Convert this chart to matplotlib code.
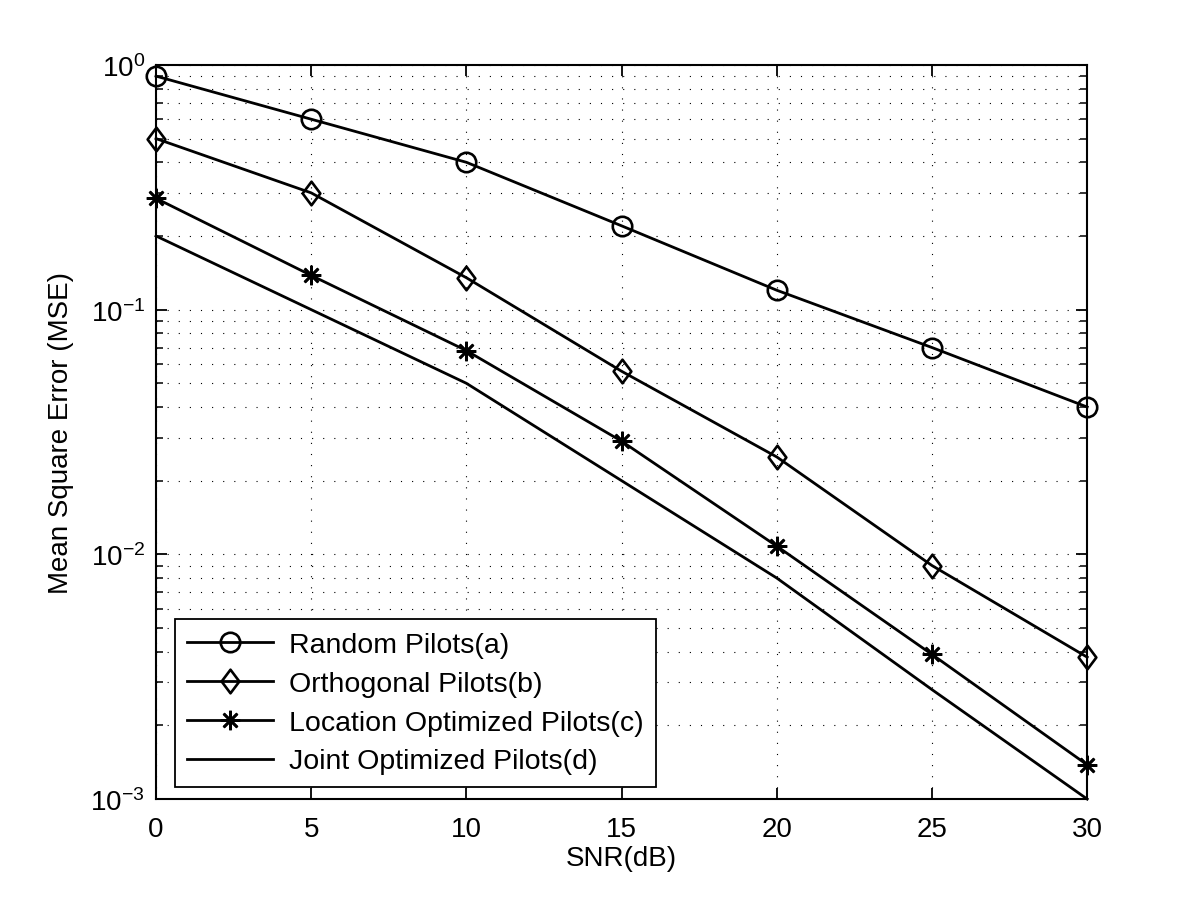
import matplotlib
matplotlib.use("Agg")
import matplotlib.pyplot as plt
from matplotlib.ticker import LogLocator, NullFormatter, FixedLocator
from matplotlib.path import Path

plt.rcParams['font.family'] = ['Liberation Sans', 'DejaVu Sans']
plt.rcParams['mathtext.fontset'] = 'custom'
plt.rcParams['mathtext.rm'] = 'Liberation Sans'

snr = [0, 5, 10, 15, 20, 25, 30]
random_pilots = [0.9, 0.6, 0.4, 0.22, 0.12, 0.07, 0.04]
orthogonal_pilots = [0.5, 0.3, 0.135, 0.056, 0.025, 0.009, 0.0038]
location_pilots = [0.285, 0.138, 0.068, 0.029, 0.0108, 0.0039, 0.00138]
joint_pilots = [0.2, 0.1, 0.05, 0.02, 0.008, 0.0028, 0.001]

labels = ['Random Pilots(a)', 'Orthogonal Pilots(b)',
          'Location Optimized Pilots(c)', 'Joint Optimized Pilots(d)']

diamond = Path([(0, 1), (0.75, 0), (0, -1), (-0.75, 0), (0, 1)],
               [Path.MOVETO, Path.LINETO, Path.LINETO, Path.LINETO, Path.CLOSEPOLY])

fig = plt.figure(figsize=(12, 9.03), dpi=100)
ax = fig.add_axes([0.13, 0.114, 0.776, 0.813])

lw = 2.0
mew = 1.9
ax.semilogy(snr, random_pilots, color='black', lw=lw, marker='o', ms=14,
            mfc='none', mew=mew, label=labels[0], clip_on=False, zorder=3)
ax.semilogy(snr, orthogonal_pilots, color='black', lw=lw, marker=diamond, ms=17,
            mfc='none', mew=mew, label=labels[1], clip_on=False, zorder=3)
ax.semilogy(snr, location_pilots, color='black', lw=lw, marker=(8, 2, 0), ms=14,
            mew=mew, label=labels[2], clip_on=False, zorder=3)
ax.semilogy(snr, joint_pilots, color='black', lw=lw, label=labels[3],
            clip_on=False, zorder=3)

ax.set_xlim(0, 30)
ax.set_ylim(1e-3, 1)
ax.xaxis.set_major_locator(FixedLocator(snr))
ax.yaxis.set_major_locator(LogLocator(base=10, numticks=10))
ax.yaxis.set_minor_locator(LogLocator(base=10, subs=range(2, 10), numticks=20))
ax.yaxis.set_minor_formatter(NullFormatter())

ax.tick_params(which='both', direction='in', top=True, right=True, labelsize=20)
ax.tick_params(which='major', length=8, width=1.3)
ax.tick_params(which='minor', length=5, width=1.1)
ax.tick_params(axis='x', pad=12)
ax.tick_params(axis='y', pad=8)

gstyle = dict(color='black', linestyle=(0, (1, 9)), linewidth=0.8)
ax.grid(True, which='major', axis='both', **gstyle)
ax.grid(True, which='minor', axis='y', **gstyle)

for s in ax.spines.values():
    s.set_linewidth(1.5)

ax.set_xlabel('SNR(dB)', fontsize=20, labelpad=2)
ax.set_ylabel('Mean Square Error (MSE)', fontsize=20, labelpad=12)

leg = ax.legend(loc='lower left', bbox_to_anchor=(0.02, 0.016), borderaxespad=0,
                fontsize=20.5, fancybox=False, edgecolor='black', framealpha=1,
                handlelength=3.0, handletextpad=0.55, labelspacing=0.45, borderpad=0.45)
leg.get_frame().set_linewidth(1.3)

fig.savefig('out.png', dpi=100)
